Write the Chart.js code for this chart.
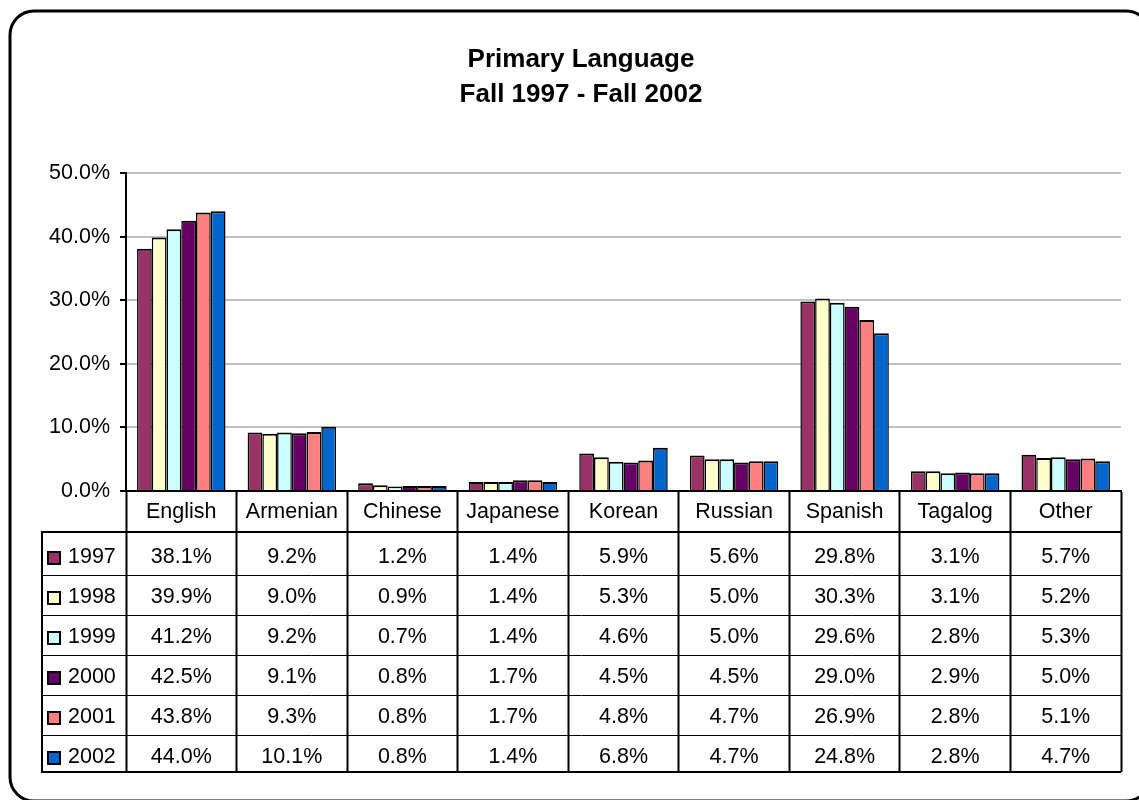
<!DOCTYPE html>
<html>
<head>
<meta charset="utf-8">
<title>Primary Language</title>
<script src="https://cdn.jsdelivr.net/npm/chart.js@4.4.1/dist/chart.umd.min.js"></script>
<style>
  html, body { margin: 0; padding: 0; background: #fff; }
  canvas { display: block; }
</style>
</head>
<body>
<canvas id="chart" width="1139" height="800"></canvas>
<script>
const languages = ['English', 'Armenian', 'Chinese', 'Japanese', 'Korean', 'Russian', 'Spanish', 'Tagalog', 'Other'];
const years = ['1997', '1998', '1999', '2000', '2001', '2002'];
const colors = ['#993366', '#FFFFCC', '#CCFFFF', '#660066', '#FF8080', '#0066CC'];

// percent of students, fall of each year
const fall1997 = [38.1, 9.2, 1.2, 1.4, 5.9, 5.6, 29.8, 3.1, 5.7];
const fall1998 = [39.9, 9.0, 0.9, 1.4, 5.3, 5.0, 30.3, 3.1, 5.2];
const fall1999 = [41.2, 9.2, 0.7, 1.4, 4.6, 5.0, 29.6, 2.8, 5.3];
const fall2000 = [42.5, 9.1, 0.8, 1.7, 4.5, 4.5, 29.0, 2.9, 5.0];
const fall2001 = [43.8, 9.3, 0.8, 1.7, 4.8, 4.7, 26.9, 2.8, 5.1];
const fall2002 = [44.0, 10.1, 0.8, 1.4, 6.8, 4.7, 24.8, 2.8, 4.7];
const series = [fall1997, fall1998, fall1999, fall2000, fall2001, fall2002];

const FONT = '"Liberation Sans", Arial, sans-serif';
const pct = (v) => v.toFixed(1) + '%';

// rounded frame round the whole chart
const frame = {
  id: 'frame',
  beforeDraw: (chart) => {
    const ctx = chart.ctx;
    const l = 10, t = 11, r = 1150, b = 801, rad = 24;
    ctx.save();
    ctx.beginPath();
    ctx.moveTo(l + rad, t);
    ctx.lineTo(r - rad, t);
    ctx.arcTo(r, t, r, t + rad, rad);
    ctx.lineTo(r, b - rad);
    ctx.arcTo(r, b, r - rad, b, rad);
    ctx.lineTo(l + rad, b);
    ctx.arcTo(l, b, l, b - rad, rad);
    ctx.lineTo(l, t + rad);
    ctx.arcTo(l, t, l + rad, t, rad);
    ctx.closePath();
    ctx.lineWidth = 3;
    ctx.strokeStyle = '#000';
    ctx.stroke();
    ctx.restore();
  },
};

// data table under the bars, columns taken from the x scale
const dataTable = {
  id: 'dataTable',
  afterDraw: (chart) => {
    const ctx = chart.ctx;
    const x = chart.scales.x;
    const tableLeft = 42;
    const right = chart.chartArea.right;
    const headBottom = 532;
    const bottom = 772;

    ctx.save();
    ctx.strokeStyle = '#000';
    ctx.lineWidth = 2;
    ctx.beginPath();
    ctx.moveTo(tableLeft, headBottom);
    ctx.lineTo(right, headBottom);
    ctx.moveTo(tableLeft, bottom);
    ctx.lineTo(right, bottom);
    ctx.moveTo(tableLeft, headBottom - 1);
    ctx.lineTo(tableLeft, bottom + 1);
    ctx.stroke();

    ctx.lineWidth = 1;
    ctx.beginPath();
    for (let i = 0; i < years.length - 1; i++) {
      const y = 575.5 + i * 40;
      ctx.moveTo(tableLeft, y);
      ctx.lineTo(right, y);
    }
    ctx.stroke();

    ctx.fillStyle = '#000';
    ctx.font = '21.5px ' + FONT;
    ctx.textBaseline = 'middle';
    ctx.textAlign = 'center';
    languages.forEach((lang, i) => {
      ctx.fillText(lang, x.getPixelForValue(i), 512);
    });

    series.forEach((values, row) => {
      const cy = 557 + row * 40;
      values.forEach((v, i) => {
        ctx.fillText(pct(v), x.getPixelForValue(i), cy);
      });
    });

    ctx.textAlign = 'left';
    years.forEach((year, row) => {
      const cy = 557 + row * 40;
      ctx.fillStyle = colors[row];
      ctx.fillRect(48, cy - 5, 12, 12);
      ctx.lineWidth = 2;
      ctx.strokeRect(48, cy - 5, 12, 12);
      ctx.fillStyle = '#000';
      ctx.fillText(year, 68, cy);
    });
    ctx.restore();
  },
};

new Chart('chart', {
  type: 'bar',
  data: {
    labels: languages,
    datasets: years.map((year, i) => ({
      label: year,
      data: series[i],
      backgroundColor: colors[i],
      borderColor: '#000',
      borderWidth: { top: 2, left: 1.5, right: 1.5, bottom: 0 },
      barPercentage: 1,
      categoryPercentage: 0.8,
    })),
  },
  options: {
    responsive: false,
    animation: false,
    layout: {
      padding: { left: 41, right: 18, top: 0, bottom: 0 },
    },
    plugins: {
      legend: { display: false },
      tooltip: { enabled: false },
      title: {
        display: true,
        text: ['Primary Language', 'Fall 1997 - Fall 2002'],
        color: '#000',
        font: { family: FONT, size: 26, weight: 'bold', lineHeight: 1.35 },
        padding: { top: 42, bottom: 61 },
      },
    },
    scales: {
      x: {
        afterFit: (scale) => { scale.height = 309; },
        ticks: { display: false },
        grid: {
          display: true,
          offset: true,
          drawOnChartArea: false,
          drawTicks: true,
          tickLength: 281,
          tickColor: '#000',
          tickWidth: 2,
        },
        border: { color: '#000', width: 2 },
      },
      y: {
        min: 0,
        max: 50,
        afterFit: (scale) => { scale.width = 85; },
        ticks: {
          stepSize: 10,
          callback: (v) => pct(v),
          color: '#000',
          font: { family: FONT, size: 21.5 },
          padding: 10,
        },
        grid: {
          color: '#c0c0c0',
          lineWidth: 2,
          tickColor: '#000',
          tickLength: 6,
          tickWidth: 2,
        },
        border: { color: '#000', width: 2 },
      },
    },
  },
  plugins: [frame, dataTable],
});
</script>
</body>
</html>
